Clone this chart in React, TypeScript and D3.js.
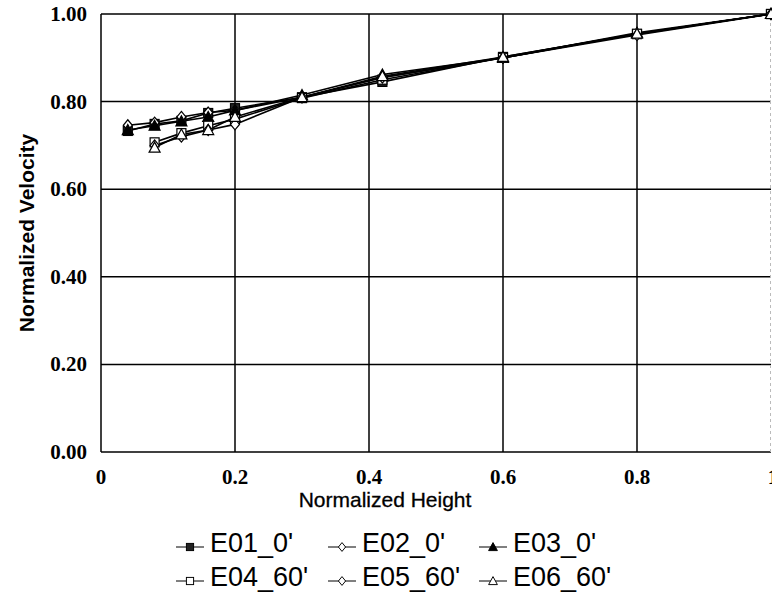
import * as d3 from 'd3';
import React from 'react';

const heights = [0.04, 0.08, 0.12, 0.16, 0.2, 0.3, 0.42, 0.6, 0.8, 1.0];

const e01 = [0.733, 0.749, 0.756, 0.774, 0.785, 0.81, 0.845, 0.902, 0.954, 1.0];
const e02 = [0.746, 0.752, 0.765, 0.775, 0.78, 0.81, 0.855, 0.9, 0.955, 1.0];
const e03 = [0.735, 0.745, 0.755, 0.765, 0.78, 0.815, 0.862, 0.9, 0.957, 1.0];
const e04 = [null, 0.707, 0.728, 0.745, 0.76, 0.808, 0.85, 0.9, 0.955, 1.0];
const e05 = [null, 0.7, 0.72, 0.735, 0.748, 0.81, 0.855, 0.9, 0.952, 1.0];
const e06 = [null, 0.695, 0.725, 0.735, 0.765, 0.81, 0.858, 0.902, 0.955, 1.0];

const seriesNames = ["E01_0'", "E02_0'", "E03_0'", "E04_60'", "E05_60'", "E06_60'"];
const seriesValues = [e01, e02, e03, e04, e05, e06];
const markers = ['squareFill', 'diamond', 'triangleFill', 'square', 'diamond', 'triangle'];

const xTicks = [0, 0.2, 0.4, 0.6, 0.8, 1];
const xTickLabels = ['0', '0.2', '0.4', '0.6', '0.8', '1'];
const yTicks = [0, 0.2, 0.4, 0.6, 0.8, 1];

const W = 772;
const H = 597;

const x = d3.scaleLinear().domain([0, 1]).range([101, 771]);
const y = d3.scaleLinear().domain([0, 1]).range([452, 14]);

const Marker = ({ kind, cx, cy }: { kind: string; cx: number; cy: number }) => {
  const s = 4.5;
  if (kind === 'squareFill' || kind === 'square') {
    return (
      <rect x={cx - s} y={cy - s} width={s * 2} height={s * 2}
        fill={kind === 'squareFill' ? '#222' : 'white'} stroke="black" strokeWidth={1.2} />
    );
  }
  if (kind === 'diamond') {
    return (
      <path d={`M${cx},${cy - s - 1}L${cx + s},${cy}L${cx},${cy + s + 1}L${cx - s},${cy}Z`}
        fill="white" stroke="black" strokeWidth={1.2} />
    );
  }
  return (
    <path d={`M${cx},${cy - s - 1}L${cx + s + 1},${cy + s}L${cx - s - 1},${cy + s}Z`}
      fill={kind === 'triangleFill' ? 'black' : 'white'} stroke="black" strokeWidth={1.2} />
  );
};

const App: React.FC = () => {
  const line = d3
    .line<[number, number | null]>()
    .defined((d) => d[1] !== null)
    .x((d) => x(d[0]))
    .y((d) => y(d[1] as number));

  // legend text start x for each column, baseline y for each row
  const legendCols = [210, 362, 513];
  const legendRows = [552, 586];

  return (
    <svg width={W} height={H} style={{ position: 'absolute', left: 0, top: 0, background: 'white' }}>
      <rect width={W} height={H} fill="white" />
      {/* grid */}
      <g stroke="black" strokeWidth={1.5}>
        {yTicks.slice(1, 5).map((t) => (
          <line key={'h' + t} x1={x(0)} x2={x(1)} y1={y(t)} y2={y(t)} />
        ))}
        {xTicks.slice(1, 5).map((t) => (
          <line key={'v' + t} x1={x(t)} x2={x(t)} y1={y(0)} y2={y(1)} />
        ))}
        <line x1={x(0)} x2={x(1)} y1={y(1)} y2={y(1)} />
        <line x1={x(0)} x2={x(1)} y1={y(0)} y2={y(0)} />
        <line x1={x(0)} x2={x(0)} y1={y(0)} y2={y(1)} />
      </g>
      <line x1={x(1) - 0.5} x2={x(1) - 0.5} y1={y(0)} y2={y(1)} stroke="#bbb" strokeWidth={1} strokeDasharray="3,3" />
      {/* series */}
      {seriesValues.map((vals, i) => (
        <path key={'l' + i} d={line(heights.map((h, j) => [h, vals[j]]) as [number, number | null][]) || ''}
          fill="none" stroke="black" strokeWidth={1.6} />
      ))}
      {seriesValues.map((vals, i) => (
        <g key={'m' + i}>
          {heights.map((h, j) =>
            vals[j] === null ? null : <Marker key={j} kind={markers[i]} cx={x(h)} cy={y(vals[j] as number)} />
          )}
        </g>
      ))}
      {/* tick labels */}
      <g fontFamily="'Liberation Serif', serif" fontWeight="bold" fontSize={21} fill="black">
        {yTicks.map((t) => (
          <text key={'yt' + t} x={87} y={y(t) + 7} textAnchor="end">{d3.format('.2f')(t)}</text>
        ))}
        {xTicks.map((t, i) => (
          <text key={'xt' + t} x={i === 5 ? x(t) + 2 : x(t)} y={484} textAnchor="middle">{xTickLabels[i]}</text>
        ))}
      </g>
      {/* axis titles */}
      <text x={385} y={507} textAnchor="middle" fontFamily="'Liberation Sans', Arial, sans-serif"
        fontSize={21} fill="black" stroke="black" strokeWidth={0.3}>Normalized Height</text>
      <text transform="translate(34,233) rotate(-90)" textAnchor="middle"
        fontFamily="'Liberation Sans', Arial, sans-serif" fontWeight="bold" fontSize={21} fill="black">
        Normalized Velocity
      </text>
      {/* legend */}
      {seriesNames.map((name, i) => {
        const tx = legendCols[i % 3];
        const ly = legendRows[Math.floor(i / 3)];
        const my = ly - 5;
        const mx = tx - 20;
        return (
          <g key={'lg' + i}>
            <line x1={tx - 34} x2={tx - 6} y1={my} y2={my} stroke="black" strokeWidth={1} />
            <g transform={`translate(${mx},${my}) scale(0.8) translate(${-mx},${-my})`}>
              <Marker kind={markers[i]} cx={mx} cy={my} />
            </g>
            <text x={tx} y={ly} fontFamily="'Liberation Sans', Arial, sans-serif" fontSize={27} fill="black">
              {name}
            </text>
          </g>
        );
      })}
    </svg>
  );
};

export default App;
